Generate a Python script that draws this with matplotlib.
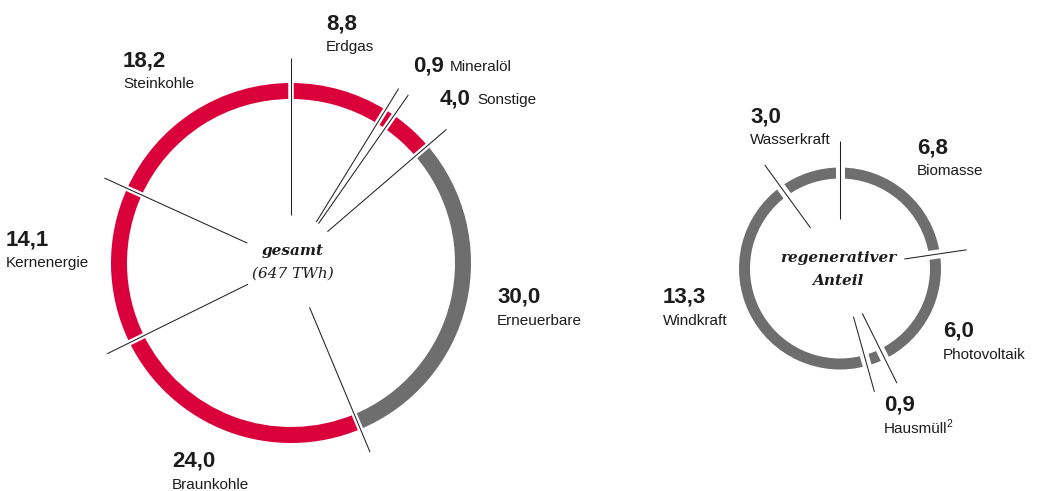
import numpy as np
import matplotlib
matplotlib.use("Agg")
import matplotlib.pyplot as plt
from matplotlib.patches import Wedge

# Stromerzeugung nach Energieträgern (Anteile in %)
total_labels = ["Erdgas", "Mineralöl", "Sonstige", "Erneuerbare", "Braunkohle", "Kernenergie", "Steinkohle"]
total_values = [8.8, 0.9, 4.0, 30.0, 24.0, 14.1, 18.2]
total_renewable = [False, False, False, True, False, False, False]

regen_labels = ["Biomasse", "Photovoltaik", "Hausmüll²", "Windkraft", "Wasserkraft"]
regen_values = [6.8, 6.0, 0.9, 13.3, 3.0]

RED = "#da0039"
GRAY = "#6e6e6e"
TXT = "#1c1c1c"
W, H = 1037, 491

# label anchor (x, value baseline) in pixels; inline = value and name on one line
total_label_pos = [(326, 29, None), (413, 71, 450), (440, 104, 477), (497, 303, None),
                   (172, 467, None), (6, 245, None), (123, 66, None)]
regen_label_pos = [(917, 153, None), (943, 337, None), (884, 411, None),
                   (663, 303, None), (750, 122, None)]

plt.rcParams["font.family"] = ["Liberation Sans", "DejaVu Sans"]
fig = plt.figure(figsize=(W / 100, H / 100), dpi=100)
ax = fig.add_axes([0, 0, 1, 1])
ax.set_xlim(0, W)
ax.set_ylim(0, H)
ax.axis("off")
renderer = fig.canvas.get_renderer()


def fmt(v):
    return f"{v:.1f}".replace(".", ",")


def ring(cx, cy, r_out, width, values, colors, gap_px, r_line_in, r_line_out, line_in_override=None):
    cy = H - cy
    total = sum(values)
    bounds = np.concatenate([[0], np.cumsum(values)]) / total * 360
    for i, c in enumerate(colors):
        ax.add_patch(Wedge((cx, cy), r_out, 90 - bounds[i + 1], 90 - bounds[i],
                           width=width, facecolor=c, edgecolor="none"))
    for j, b in enumerate(bounds[:-1]):
        t = np.radians(b)
        dx, dy = np.sin(t), np.cos(t)
        # white gap across the ring
        ax.plot([cx + (r_out - width - 3) * dx, cx + (r_out + 3) * dx],
                [cy + (r_out - width - 3) * dy, cy + (r_out + 3) * dy],
                color="white", lw=gap_px * 72 / 100, solid_capstyle="butt")
        rin = r_line_in
        if line_in_override and j in line_in_override:
            rin = line_in_override[j]
        ax.plot([cx + rin * dx, cx + r_line_out * dx], [cy + rin * dy, cy + r_line_out * dy],
                color="#222222", lw=0.75, solid_capstyle="butt")


def name_text(x, y, name):
    sup = name.endswith("²")
    t = ax.text(x, y, name.rstrip("²"), fontsize=11, color=TXT, ha="left", va="baseline")
    if sup:
        bb = t.get_window_extent(renderer)
        ax.text(bb.x1 - 1.5, y + 6, "2", fontsize=7.5, color=TXT, ha="left", va="baseline")


def labels(names, values, positions):
    for name, v, (x, yb, inline) in zip(names, values, positions):
        ax.text(x, H - yb, fmt(v), fontsize=16, fontweight="bold", color=TXT,
                ha="left", va="baseline")
        if inline is None:
            name_text(x, H - yb - 22, name)
        else:
            name_text(inline, H - yb, name)


total_colors = [GRAY if r else RED for r in total_renewable]
ring(291, 263, 180, 16, total_values, total_colors, 5.5, 48, 205)
labels(total_labels, total_values, total_label_pos)

ring(840, 268.5, 101, 11, regen_values, [GRAY] * len(regen_values), 9, 50, 128,
     line_in_override={1: 65})
labels(regen_labels, regen_values, regen_label_pos)

serif = ["DejaVu Serif"]
ax.text(293, H - 255, "gesamt", family=serif, fontsize=11, fontweight="bold", style="italic",
        color=TXT, ha="center", va="baseline")
ax.text(293, H - 278, "(647 TWh)", family=serif, fontsize=11, style="italic",
        color=TXT, ha="center", va="baseline")
ax.text(838, H - 262, "regenerativer", family=serif, fontsize=11, fontweight="bold",
        style="italic", color=TXT, ha="center", va="baseline")
ax.text(838, H - 285, "Anteil", family=serif, fontsize=11, fontweight="bold",
        style="italic", color=TXT, ha="center", va="baseline")

fig.savefig("out.png", dpi=100, facecolor="white")
